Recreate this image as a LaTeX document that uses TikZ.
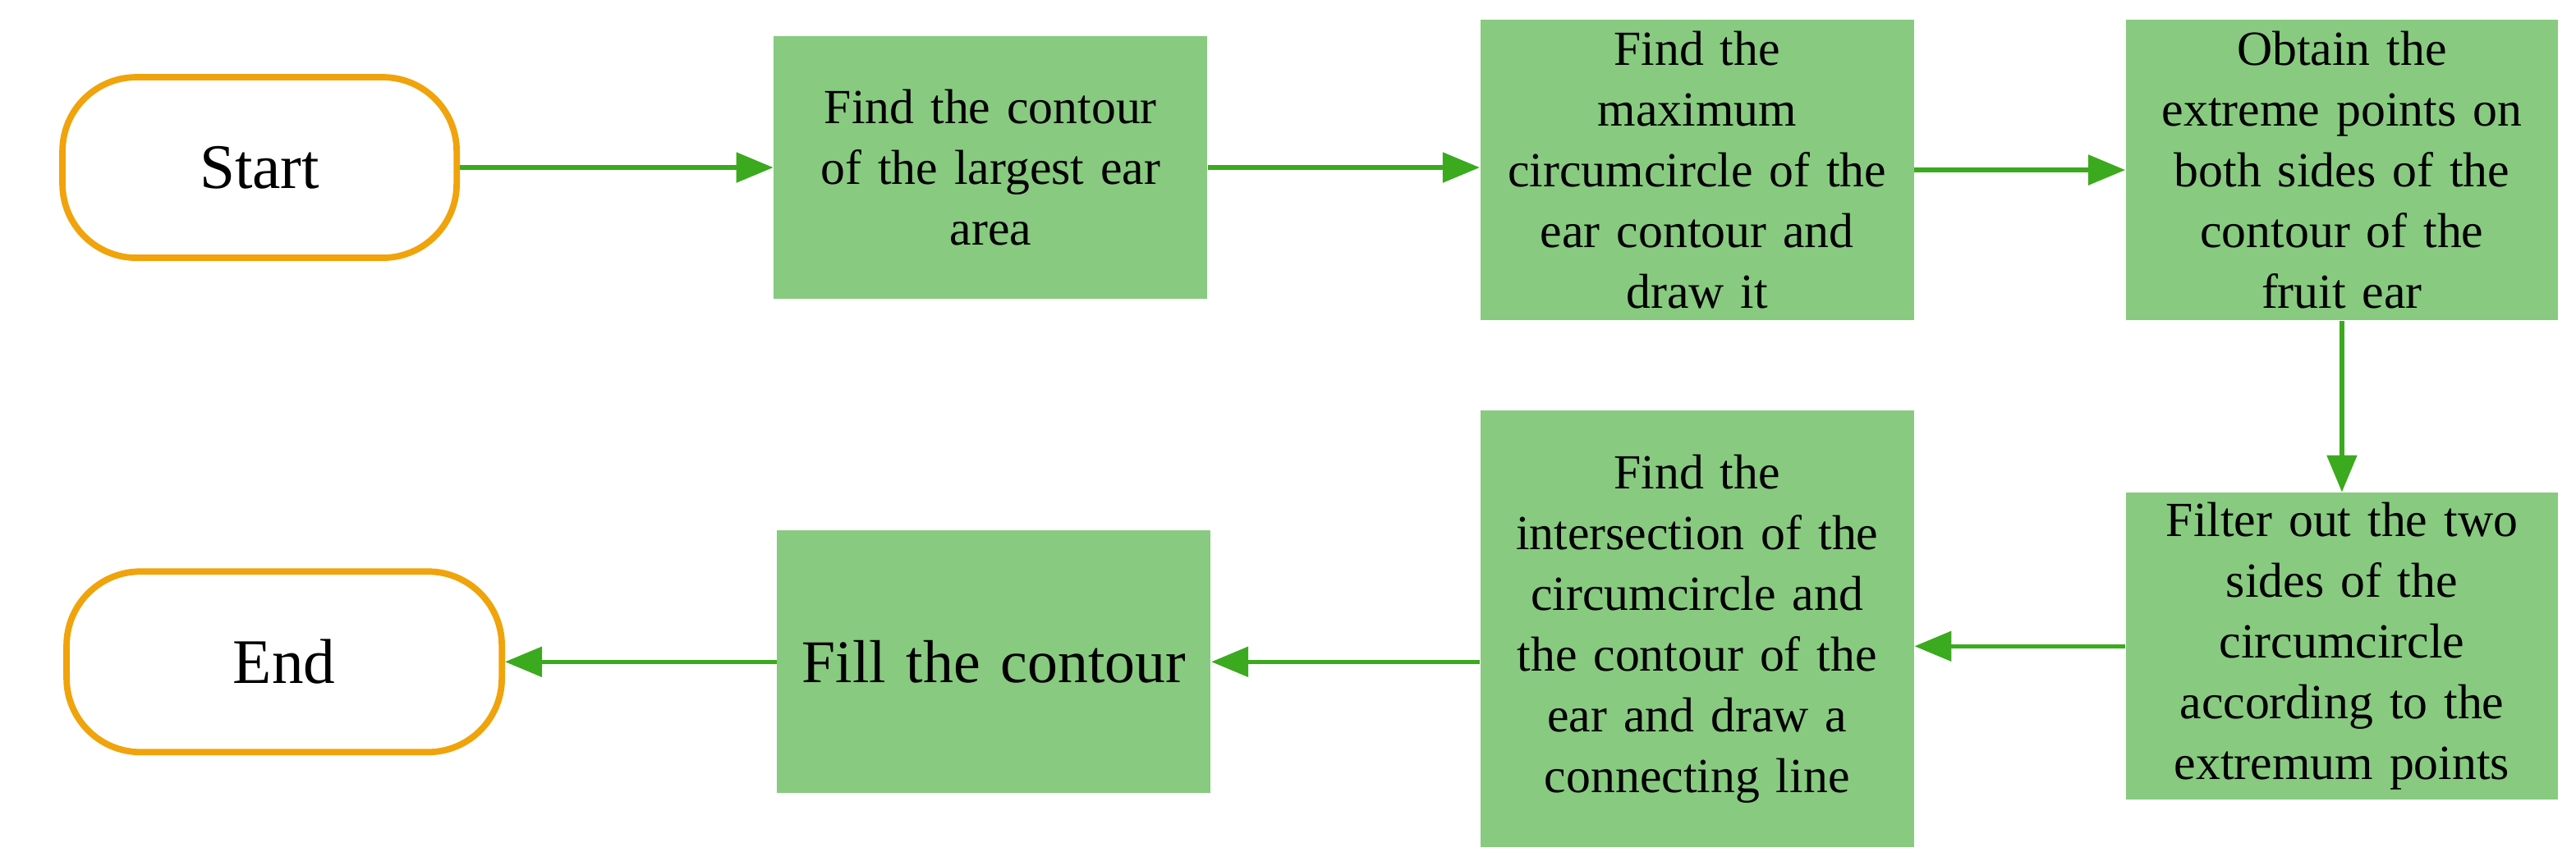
\documentclass[tikz,border=0pt]{standalone}
\usepackage{fontspec}
\setmainfont{Liberation Serif}
\usetikzlibrary{arrows.meta}
\definecolor{bx}{HTML}{88CA80}
\definecolor{ar}{HTML}{3BAA1E}
\definecolor{og}{HTML}{F0A30A}
\begin{document}
\begin{tikzpicture}[x=0.02cm,y=-0.02cm,
 box/.style={fill=bx,draw=none,inner sep=2pt,align=center,font=\fontsize{17}{21}\selectfont},
 term/.style={draw=og,line width=2.2pt,fill=white,rounded corners=0.9cm,font=\fontsize{22}{26}\selectfont},
 arr/.style={draw=ar,line width=1.5pt,-{Triangle[length=0.45cm,width=0.36cm]}}]
\useasboundingbox (0,0) rectangle (1568,527);
\node[term,minimum width=4.8cm,minimum height=2.2cm] (s) at (158,102) {Start};
\node[term,minimum width=5.3cm,minimum height=2.2cm] (e) at (173,403) {End};
\node[box,minimum width=5.28cm,minimum height=3.2cm,text width=5cm] (b1) at (603,102) {Find the contour\\of the largest ear\\area};
\node[box,minimum width=5.28cm,minimum height=3.66cm,text width=5cm] (b2) at (1033,103.5) {Find the\\maximum\\circumcircle of the\\ear contour and\\draw it};
\node[box,minimum width=5.26cm,minimum height=3.66cm,text width=5cm] (b3) at (1425.5,103.5) {Obtain the\\extreme points on\\both sides of the\\contour of the\\fruit ear};
\node[box,minimum width=5.26cm,minimum height=3.74cm,text width=5cm] (b4) at (1425.5,393.5) {Filter out the two\\sides of the\\circumcircle\\according to the\\extremum points};
\node[box,minimum width=5.28cm,minimum height=5.32cm,text width=5cm] (b5) at (1033,383) {Find the\\intersection of the\\circumcircle and\\the contour of the\\ear and draw a\\connecting line};
\node[box,minimum width=5.28cm,minimum height=3.2cm,text width=5cm,font=\fontsize{21}{25}\selectfont] (b6) at (605,403) {Fill the contour};
\draw[arr] (s.east) -- (b1.west);
\draw[arr] (b1.east) -- (b2.west|-b1.east);
\draw[arr] (b2.east|-b3.west) -- (b3.west);
\draw[arr] (b3.south) -- (b4.north);
\draw[arr] (b4.west) -- (b5.east|-b4.west);
\draw[arr] (b5.west|-b6.east) -- (b6.east);
\draw[arr] (b6.west) -- (e.east);
\end{tikzpicture}
\end{document}
